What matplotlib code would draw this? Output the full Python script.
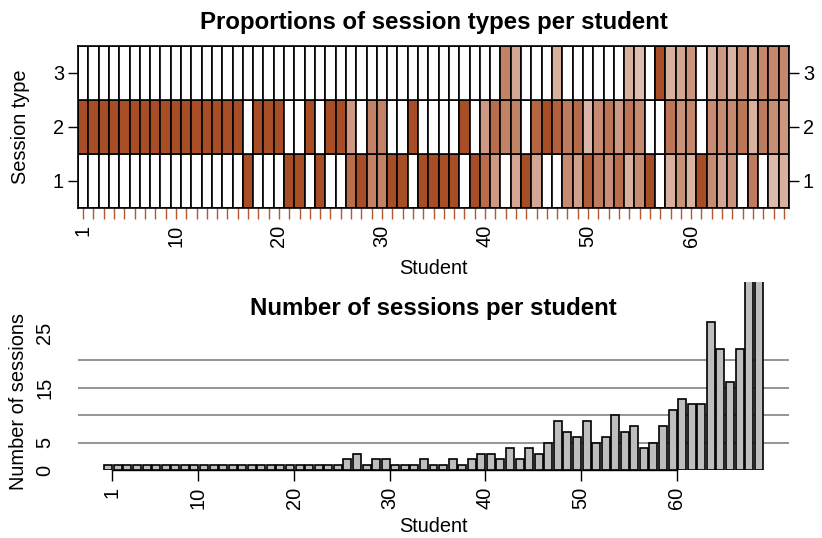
import numpy as np
import matplotlib
matplotlib.use("Agg")
import matplotlib.pyplot as plt

plt.rcParams['font.family'] = ['Liberation Sans', 'DejaVu Sans']

# proportion of each session type for every student (columns 1..69)
students = np.arange(1, 70)
type1 = [0, 0, 0, 0, 0, 0, 0, 0, 0, 0, 0, 0, 0, 0, 0, 0, 1, 0, 0, 0,
         1, 1, 0, 1, 0, 0, 0.67, 1, 0.5, 0.5, 1, 1, 0, 1, 1, 1, 1, 0, 1, 0.67,
         0.33, 0, 0.25, 1, 0.25, 0, 0, 0.44, 0.29, 0.83, 0.56, 0.4, 0.67, 0.2, 0.43, 1, 0, 0.2, 0.38, 0.18,
         1, 0.42, 0.25, 0.37, 0, 0.56, 0, 0.15, 0.2]
type2 = [1, 1, 1, 1, 1, 1, 1, 1, 1, 1, 1, 1, 1, 1, 1, 1, 0, 1, 1, 1,
         0, 0, 1, 0, 1, 1, 0.33, 0, 0.5, 0.5, 0, 0, 1, 0, 0, 0, 0, 1, 0, 0.33,
         0.67, 0.5, 0.5, 0, 0.75, 1, 0.8, 0.56, 0.71, 0.17, 0.44, 0.6, 0.33, 0.6, 0.43, 0, 0, 0.6, 0.38, 0.45,
         0, 0.42, 0.42, 0.44, 0.59, 0.19, 0.55, 0.4, 0.35]
type3 = [0, 0, 0, 0, 0, 0, 0, 0, 0, 0, 0, 0, 0, 0, 0, 0, 0, 0, 0, 0,
         0, 0, 0, 0, 0, 0, 0, 0, 0, 0, 0, 0, 0, 0, 0, 0, 0, 0, 0, 0,
         0, 0.5, 0.25, 0, 0, 0, 0.2, 0, 0, 0, 0, 0, 0, 0.2, 0.14, 0, 1, 0.2, 0.25, 0.36,
         0, 0.17, 0.33, 0.19, 0.41, 0.25, 0.45, 0.45, 0.45]
session_types = [1, 2, 3]

# number of sessions per student
sessions = [1, 1, 1, 1, 1, 1, 1, 1, 1, 1, 1, 1, 1, 1, 1, 1, 1, 1, 1, 1,
            1, 1, 1, 1, 1, 2, 3, 1, 2, 2, 1, 1, 1, 2, 1, 1, 2, 1, 2, 3,
            3, 2, 4, 2, 4, 3, 5, 9, 7, 6, 9, 5, 6, 10, 7, 8, 4, 5, 8, 11,
            13, 12, 12, 27, 22, 16, 22, 38, 45]
tick_students = [1, 10, 20, 30, 40, 50, 60]
y_ticks = [0, 5, 10, 15, 20, 25]
y_labels = ['0', '5', '', '15', '', '25']
grid_levels = [5, 10, 15, 20]

W, H = 822, 538
fig = plt.figure(figsize=(W / 100, H / 100), dpi=100)
FS = 14.4
FS_TITLE = 17.3


def box(x0, y0, x1, y1):
    # pixel box (from top-left) -> figure fraction rect
    return [x0 / W, 1 - y1 / H, (x1 - x0) / W, (y1 - y0) / H]


sienna = np.array([168, 78, 38]) / 255

# --- top panel: proportions heatmap ---
ax1 = fig.add_axes(box(78, 46, 789, 208))
props = np.array([type1, type2, type3])
for row, p in zip(session_types, props):
    a = np.sqrt(p)[:, None]
    cols = 1 - a * (1 - sienna)
    ax1.bar(students, 1, bottom=row - 0.5, width=1, color=cols,
            edgecolor='black', linewidth=1.2)
ax1.set_xlim(0.5, 69.5)
ax1.set_ylim(0.5, 3.5)
for s in ax1.spines.values():
    s.set_linewidth(1.2)
ax1.set_yticks(session_types)
ax1.tick_params(axis='y', left=True, right=True, labelright=True,
                length=7, width=1, labelsize=FS, pad=3)
ax1.set_xticks(students)
ax1.set_xticklabels([str(s) if s in tick_students else '' for s in students],
                    rotation=90)
ax1.tick_params(axis='x', length=8, width=1, color='#b5582e', labelsize=FS, pad=4)
fig.text(433.5 / W, 1 - 22 / H, 'Proportions of session types per student',
         ha='center', va='center', fontsize=FS_TITLE, fontweight='bold')
fig.text(20 / W, 1 - 127 / H, 'Session type', rotation=90,
         ha='center', va='center', fontsize=FS)
fig.text(433.5 / W, 1 - 268 / H, 'Student', ha='center', va='center', fontsize=FS)

# --- bottom panel: sessions per student ---
ax2 = fig.add_axes(box(78, 282, 789, 470))
pos = 1.2 * students - 0.5
for g in grid_levels:
    ax2.axhline(g, color='#8c8c8c', linewidth=1.3, zorder=1)
ax2.bar(pos, sessions, width=1, color='#bebebe', edgecolor='black',
        linewidth=1.2, zorder=3)
ax2.set_xlim(-3.104, 86.104)
ax2.set_ylim(0, 34.3)
ax2.spines['top'].set_visible(False)
ax2.spines['right'].set_visible(False)
ax2.spines['left'].set_visible(False)
ax2.spines['bottom'].set_bounds(1.2, 72)
ax2.spines['bottom'].set_linewidth(1)
ax2.set_yticks(y_ticks)
ax2.set_yticklabels(y_labels, rotation=90, va='center')
ax2.tick_params(axis='y', length=0, labelsize=FS, pad=17)
ax2.set_xticks([1.2 * s for s in tick_students])
ax2.set_xticklabels([str(s) for s in tick_students], rotation=90)
ax2.tick_params(axis='x', length=8, width=1, labelsize=FS, pad=4)
fig.text(433.5 / W, 1 - 308 / H, 'Number of sessions per student',
         ha='center', va='center', fontsize=FS_TITLE, fontweight='bold')
fig.text(18 / W, 1 - 401 / H, 'Number of sessions', rotation=90,
         ha='center', va='center', fontsize=FS)
fig.text(433.5 / W, 1 - 527 / H, 'Student', ha='center', va='center', fontsize=FS)

fig.savefig('out.png', dpi=100)
